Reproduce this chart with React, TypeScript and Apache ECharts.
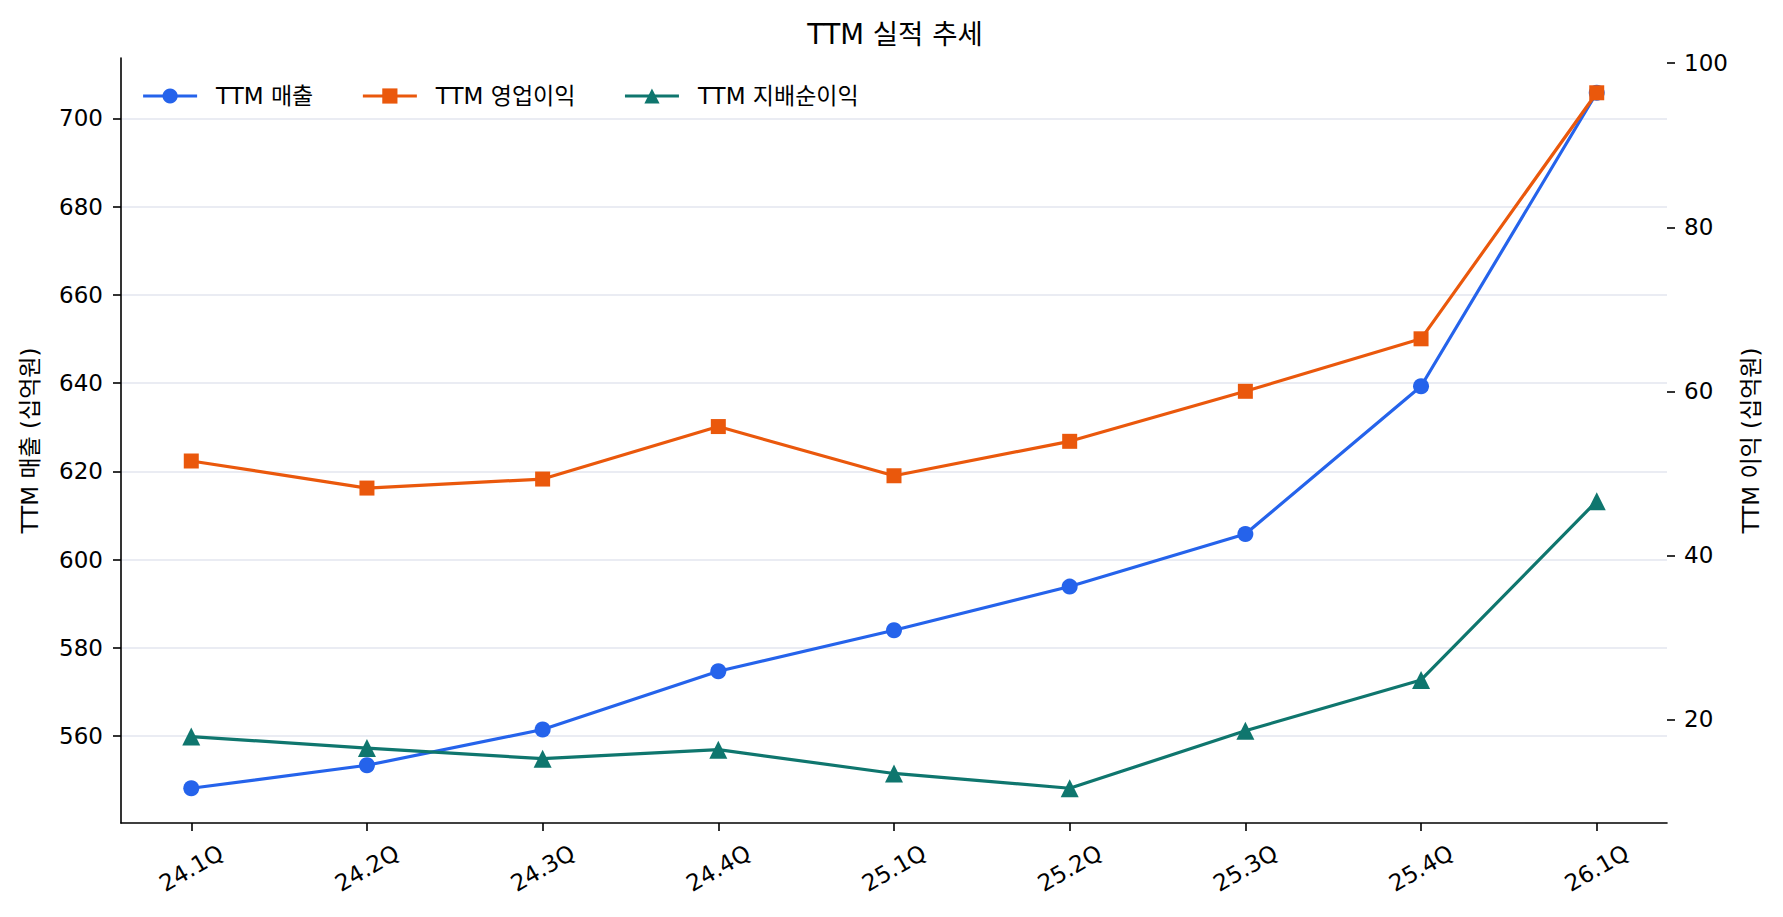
import { useEffect, useRef } from 'react';
import * as echarts from 'echarts';

const categories = ['24.1Q', '24.2Q', '24.3Q', '24.4Q', '25.1Q', '25.2Q', '25.3Q', '25.4Q', '26.1Q'];
const salesTTM = [548.2, 553.4, 561.5, 574.7, 584.0, 593.9, 605.8, 639.3, 705.8];
const opProfitTTM = [51.5, 48.2, 49.3, 55.7, 49.7, 53.9, 60.0, 66.4, 96.4];
const netProfitTTM = [17.9, 16.5, 15.2, 16.3, 13.4, 11.6, 18.6, 24.8, 46.6];
const leftTicks = [560, 580, 600, 620, 640, 660, 680, 700];
const rightTicks = [20, 40, 60, 80, 100];

const FONT = '"DejaVu Sans", "Noto Sans CJK KR", sans-serif';
const BLUE = '#2563eb';
const ORANGE = '#ea580c';
const TEAL = '#0f766e';

// matplotlib-style 5% autoscale margins
function padRange(values: number[]) {
  const lo = Math.min(...values);
  const hi = Math.max(...values);
  const m = (hi - lo) * 0.05;
  return { min: lo - m, max: hi + m };
}

export default function App() {
  const elRef = useRef<HTMLDivElement | null>(null);

  useEffect(() => {
    document.body.style.margin = '0';
    if (!elRef.current) return;
    const chart = echarts.init(elRef.current, null, { renderer: 'svg' });

    const left = padRange(salesTTM);
    const right = padRange([...opProfitTTM, ...netProfitTTM]);
    const idx = categories.map((_, i) => i);
    const toPoints = (vals: number[]) => vals.map((v, i) => [i, v]);

    const axisText = { color: '#000', fontSize: 23, fontFamily: FONT };
    const tickStyle = { color: '#000', width: 1.6 };

    chart.setOption({
      animation: false,
      backgroundColor: '#fff',
      title: {
        text: 'TTM 실적 추세',
        left: 890,
        top: 15,
        textAlign: 'center',
        textStyle: { color: '#000', fontSize: 27.5, fontWeight: 'normal', fontFamily: FONT },
      },
      legend: {
        left: 141.5,
        top: 84,
        padding: 0,
        itemWidth: 54,
        itemHeight: 19,
        itemGap: 48,
        lineStyle: { width: 3.2 },
        textStyle: { color: '#000', fontSize: 23, fontFamily: FONT, lineHeight: 24, padding: [0, 0, 0, 14] },
        data: ['TTM 매출', 'TTM 영업이익', 'TTM 지배순이익'],
      },
      grid: { left: 121, right: 116, top: 58, bottom: 94 },
      xAxis: {
        type: 'value',
        min: -0.4,
        max: 8.4,
        axisLine: { onZero: false, lineStyle: { color: '#000', width: 1.6 } },
        axisTick: { show: true, length: 8, lineStyle: tickStyle, customValues: idx },
        axisLabel: {
          ...axisText,
          customValues: idx,
          rotate: 30,
          align: 'center',
          verticalAlign: 'middle',
          margin: 45,
          formatter: (v: number) => categories[Math.round(v)] ?? '',
        },
        splitLine: { show: false },
      },
      yAxis: [
        {
          type: 'value',
          min: left.min,
          max: left.max,
          name: 'TTM 매출 (십억원)',
          nameLocation: 'middle',
          nameRotate: 90,
          nameGap: 80,
          nameTextStyle: axisText,
          axisLine: { show: true, onZero: false, lineStyle: { color: '#000', width: 1.6 } },
          axisTick: { show: true, length: 8, lineStyle: tickStyle, customValues: leftTicks },
          axisLabel: { ...axisText, margin: 18, customValues: leftTicks },
          splitLine: { show: true, lineStyle: { color: '#e3e6ef', width: 1.5 } },
        },
        {
          type: 'value',
          min: right.min,
          max: right.max,
          position: 'right',
          name: 'TTM 이익 (십억원)',
          nameLocation: 'middle',
          nameRotate: 90,
          nameGap: 72,
          nameTextStyle: axisText,
          axisLine: { show: false, onZero: false },
          axisTick: { show: true, length: 8, lineStyle: tickStyle, customValues: rightTicks },
          axisLabel: { ...axisText, margin: 17, customValues: rightTicks },
          splitLine: { show: false },
        },
      ],
      series: [
        {
          name: 'TTM 매출',
          type: 'line',
          yAxisIndex: 0,
          data: toPoints(salesTTM),
          symbol: 'circle',
          symbolSize: 16,
          lineStyle: { color: BLUE, width: 3.2 },
          itemStyle: { color: BLUE },
        },
        {
          name: 'TTM 영업이익',
          type: 'line',
          yAxisIndex: 1,
          data: toPoints(opProfitTTM),
          symbol: 'rect',
          symbolSize: 15,
          lineStyle: { color: ORANGE, width: 3.2 },
          itemStyle: { color: ORANGE },
        },
        {
          name: 'TTM 지배순이익',
          type: 'line',
          yAxisIndex: 1,
          data: toPoints(netProfitTTM),
          symbol: 'triangle',
          symbolSize: 18,
          lineStyle: { color: TEAL, width: 3.2 },
          itemStyle: { color: TEAL },
        },
      ],
    });

    return () => {
      chart.dispose();
    };
  }, []);

  return <div ref={elRef} style={{ width: 1783, height: 917 }} />;
}
